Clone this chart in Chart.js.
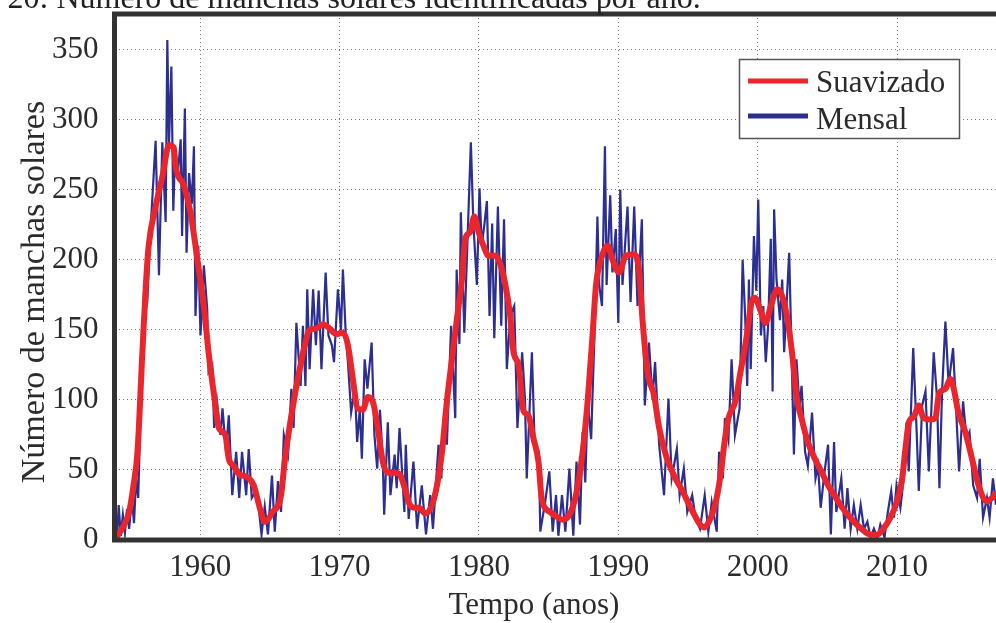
<!DOCTYPE html>
<html lang="pt">
<head>
<meta charset="utf-8">
<title>Manchas solares</title>
<script src="https://cdn.jsdelivr.net/npm/chart.js@4/dist/chart.umd.min.js"></script>
<style>
  html, body { margin: 0; padding: 0; background: #fff; overflow: hidden; }
  #wrap { position: relative; width: 996px; height: 623px; }
  #legenda-fig {
    position: absolute; left: -84px; top: -19px; white-space: nowrap;
    font: 32px "Liberation Serif", "DejaVu Serif", serif; line-height: 32px; color: #222;
  }
  canvas { position: absolute; left: 0; top: 0; }
</style>
</head>
<body>
<div id="wrap">
  <canvas id="grafico" width="996" height="623"></canvas>
  <div id="legenda-fig">Figura 20: Número de manchas solares identificadas por ano.</div>
</div>
<script>
// valores (ano decimal, número de manchas)
const anosSuav = [
  1954.06, 1954.5, 1954.9, 1955.2, 1955.5, 1955.85, 1956.1, 1956.3, 1956.8, 1957.3,
  1957.76, 1958.1, 1958.23, 1958.83, 1959.3, 1959.8, 1960.26, 1960.6, 1961.0, 1961.34,
  1961.8, 1962.05, 1962.4, 1962.77, 1963.36, 1963.84, 1964.3, 1964.65, 1965.2, 1965.8,
  1966.06, 1966.4, 1966.78, 1967.14, 1967.5, 1967.85, 1968.33, 1968.8, 1969.28, 1969.76,
  1970.24, 1970.6, 1970.95, 1971.3, 1971.67, 1972.03, 1972.38, 1972.74, 1973.1, 1973.46,
  1973.94, 1974.3, 1974.65, 1975.0, 1975.44, 1975.7, 1976.16, 1976.63, 1976.99, 1977.35,
  1977.7, 1978.06, 1978.42, 1978.78, 1979.02, 1979.38, 1979.66, 1979.97, 1980.33, 1980.69,
  1981.17, 1981.5, 1981.9, 1982.24, 1982.48, 1982.84, 1983.2, 1983.55, 1983.9, 1984.27,
  1984.5, 1985.1, 1985.53, 1986.0, 1986.49, 1986.96, 1987.44, 1987.8, 1988.15, 1988.4,
  1988.75, 1989.23, 1989.58, 1990.06, 1990.54, 1991.14, 1991.5, 1991.73, 1992.09, 1992.57,
  1992.93, 1993.4, 1994.0, 1994.6, 1995.2, 1995.8, 1996.15, 1996.5, 1996.94, 1997.3,
  1997.65, 1997.9, 1998.4, 1998.73, 1999.08, 1999.32, 1999.56, 1999.8, 2000.16, 2000.56,
  2000.94, 2001.42, 2001.83, 2002.18, 2002.54, 2002.78, 2003.14, 2003.6, 2004.1, 2004.57,
  2005.05, 2005.5, 2006.0, 2006.67, 2007.39, 2008.1, 2008.58, 2009.05, 2009.5, 2010.0,
  2010.37, 2010.6, 2010.85, 2011.2, 2011.56, 2011.9, 2012.4, 2012.75, 2013.0, 2013.47,
  2013.83, 2014.07, 2014.4, 2014.9, 2015.38, 2015.85, 2016.45, 2016.8, 2017.1
];
const valoresSuav = [
  3, 10, 20, 38, 63, 134, 182, 210, 238, 260,
  282, 280, 267, 253, 234, 200, 167, 134, 103, 80,
  75, 58, 53, 47, 45, 39, 22, 13, 20, 32,
  56, 80, 103, 122, 139, 150, 151, 154, 151, 147,
  148, 139, 115, 94, 93, 102, 99, 80, 56, 48,
  48, 47, 38, 26, 23, 23, 19, 25, 39, 63,
  99, 129, 158, 186, 215, 220, 231, 220, 210, 203,
  203, 198, 182, 160, 134, 125, 92, 89, 73, 56,
  30, 20, 17, 14.5, 18, 32, 63, 99, 146, 182,
  200, 210, 200, 191, 203, 204, 191, 158, 120, 103,
  80, 61, 46, 35, 23, 12, 9, 13, 25, 44,
  72, 87, 99, 118, 137, 153, 170, 173, 165, 155,
  167, 179, 172, 155, 127, 103, 87, 70, 58, 49,
  39, 32, 24, 15.6, 8.5, 3.8, 3.8, 8.5, 15.6, 27.5,
  44, 65, 84, 88, 96, 87, 86, 87, 104, 108,
  115, 108, 91, 77, 58, 39, 27.5, 30, 33
];

const anosMensal = [
  1954.05, 1954.15, 1954.3, 1954.45, 1954.6, 1954.75, 1954.9, 1955.1, 1955.25, 1955.4,
  1955.55, 1955.8, 1955.97, 1956.1, 1956.2, 1956.4, 1956.56, 1956.8, 1957.04, 1957.28,
  1957.52, 1957.64, 1957.76, 1957.93, 1958.07, 1958.2, 1958.4, 1958.6, 1958.7, 1958.9,
  1959.02, 1959.2, 1959.4, 1959.55, 1959.66, 1959.86, 1960.02, 1960.26, 1960.5, 1960.6,
  1960.86, 1961.0, 1961.2, 1961.45, 1961.6, 1961.85, 1962.05, 1962.3, 1962.58, 1962.8,
  1963.0, 1963.3, 1963.48, 1963.7, 1964.0, 1964.15, 1964.4, 1964.63, 1964.86, 1965.15,
  1965.35, 1965.58, 1965.8, 1966.0, 1966.3, 1966.54, 1966.7, 1966.9, 1967.2, 1967.37,
  1967.55, 1967.68, 1967.85, 1968.1, 1968.3, 1968.5, 1968.7, 1969.0, 1969.2, 1969.45,
  1969.6, 1969.88, 1970.1, 1970.24, 1970.45, 1970.6, 1970.83, 1971.1, 1971.26, 1971.45,
  1971.6, 1971.8, 1972.0, 1972.3, 1972.5, 1972.7, 1972.9, 1973.1, 1973.2, 1973.46,
  1973.65, 1973.95, 1974.1, 1974.3, 1974.5, 1974.65, 1974.75, 1974.96, 1975.3, 1975.56,
  1975.9, 1976.2, 1976.5, 1976.7, 1977.1, 1977.3, 1977.5, 1977.7, 1978.0, 1978.3,
  1978.4, 1978.6, 1978.7, 1978.95, 1979.2, 1979.42, 1979.6, 1979.85, 1980.04, 1980.2,
  1980.4, 1980.57, 1980.76, 1980.95, 1981.1, 1981.36, 1981.6, 1981.8, 1982.0, 1982.25,
  1982.53, 1982.76, 1983.1, 1983.3, 1983.43, 1983.8, 1984.0, 1984.3, 1984.4, 1984.75,
  1985.05, 1985.29, 1985.53, 1985.7, 1985.96, 1986.2, 1986.49, 1986.77, 1987.0, 1987.25,
  1987.44, 1987.63, 1987.8, 1988.05, 1988.3, 1988.5, 1988.63, 1988.83, 1989.04, 1989.16,
  1989.42, 1989.58, 1989.82, 1990.0, 1990.14, 1990.3, 1990.66, 1990.88, 1991.14, 1991.38,
  1991.69, 1991.9, 1992.2, 1992.45, 1992.64, 1992.93, 1993.28, 1993.6, 1993.83, 1994.2,
  1994.4, 1994.7, 1994.95, 1995.3, 1995.55, 1995.86, 1996.2, 1996.46, 1996.7, 1997.06,
  1997.23, 1997.5, 1997.65, 1997.9, 1998.13, 1998.37, 1998.7, 1998.92, 1999.1, 1999.25,
  1999.37, 1999.5, 1999.73, 1999.9, 2000.04, 2000.23, 2000.4, 2000.58, 2000.75, 2000.94,
  2001.07, 2001.18, 2001.35, 2001.6, 2001.76, 2001.9, 2002.26, 2002.42, 2002.6, 2002.78,
  2003.0, 2003.15, 2003.4, 2003.6, 2003.9, 2004.15, 2004.33, 2004.52, 2004.8, 2005.05,
  2005.25, 2005.48, 2005.64, 2006.0, 2006.24, 2006.44, 2006.67, 2006.9, 2007.15, 2007.39,
  2007.63, 2007.87, 2008.1, 2008.34, 2008.58, 2008.8, 2009.1, 2009.34, 2009.58, 2009.77,
  2009.96, 2010.24, 2010.5, 2010.68, 2010.84, 2011.16, 2011.4, 2011.56, 2011.8, 2012.04,
  2012.28, 2012.63, 2012.87, 2013.04, 2013.23, 2013.47, 2013.7, 2014.02, 2014.2, 2014.45,
  2014.74, 2014.98, 2015.2, 2015.46, 2015.74, 2015.93, 2016.17, 2016.45, 2016.64, 2016.88,
  2017.1
];
const valoresMensal = [
  4, 25, 3, 18, 5, 22, 8, 30, 12, 44,
  30, 120, 177, 165, 170, 215, 243, 285, 189, 284,
  227, 357, 283, 338, 235, 280, 262, 286, 217, 308,
  205, 262, 240, 281, 160, 210, 146, 196, 165, 120,
  125, 80, 99, 75, 94, 63, 89, 32, 63, 30,
  63, 32, 65, 30, 35, 27, 4, 24, 4, 46,
  6, 42, 20, 75, 61, 108, 80, 155, 110, 153,
  110, 179, 122, 179, 139, 178, 122, 191, 146, 139,
  127, 179, 150, 193, 145, 127, 91, 108, 70, 93,
  58, 129, 108, 141, 75, 51, 93, 56, 18, 84,
  32, 61, 37, 80, 46, 20, 68, 15, 56, 8,
  39, 4, 32, 8, 68, 44, 91, 68, 153, 87,
  193, 140, 234, 148, 220, 284, 226, 182, 251, 210,
  226, 242, 160, 226, 144, 238, 153, 229, 122, 160,
  167, 80, 134, 101, 44, 134, 68, 63, 6, 27,
  49, 6, 32, 3, 32, 6, 51, 3, 56, 11,
  77, 41, 99, 72, 150, 231, 182, 167, 281, 182,
  246, 191, 222, 155, 250, 182, 238, 170, 238, 167,
  229, 96, 141, 101, 127, 68, 32, 101, 44, 65,
  32, 51, 20, 32, 15, 8, 32, 6, 27, 6,
  63, 44, 87, 72, 129, 75, 94, 200, 160, 110,
  186, 122, 217, 178, 243, 146, 167, 127, 153, 215,
  106, 236, 186, 157, 186, 134, 205, 139, 61, 129,
  96, 110, 63, 53, 91, 44, 53, 23, 49, 68,
  4, 70, 20, 44, 8, 37, 8, 25, 8, 25,
  8, 13, 2, 8, 1, 11, 2, 20, 35, 16,
  39, 23, 46, 84, 49, 137, 79, 35, 96, 106,
  49, 134, 101, 37, 106, 156, 111, 137, 101, 49,
  99, 72, 77, 39, 30, 58, 16, 30, 16, 44,
  25
];

const ticksAnos = [1960, 1970, 1980, 1990, 2000, 2010];
const ticksY = [0, 50, 100, 150, 200, 250, 300, 350];
const tituloX = 'Tempo (anos)';
const tituloY = 'Número de manchas solares';

const fonteSerif = '"Liberation Serif", "DejaVu Serif", serif';
const corTexto = '#2b2b2b';

// moldura grossa (esquerda, topo, base), títulos dos eixos e caixa de legenda
const molduraPlugin = {
  id: 'moldura',
  afterDatasetsDraw(chart) {
    const { ctx, chartArea: a } = chart;
    ctx.save();
    ctx.strokeStyle = '#333';
    ctx.lineWidth = 5;
    ctx.beginPath();
    ctx.moveTo(chart.width + 5, a.top);
    ctx.lineTo(a.left, a.top);
    ctx.lineTo(a.left, a.bottom);
    ctx.lineTo(chart.width + 5, a.bottom);
    ctx.stroke();

    // títulos dos eixos (no original não ficam centrados na área visível)
    ctx.fillStyle = corTexto;
    ctx.textAlign = 'center';
    ctx.textBaseline = 'alphabetic';
    ctx.font = '31px ' + fonteSerif;
    ctx.fillText(tituloX, 534, 614);
    ctx.save();
    ctx.translate(44, 292);
    ctx.rotate(-Math.PI / 2);
    ctx.font = '34px ' + fonteSerif;
    ctx.fillText(tituloY, 0, 0);
    ctx.restore();

    // legenda
    const bx = 739.5, by = 59.5, bw = 220, bh = 79;
    ctx.fillStyle = '#fff';
    ctx.fillRect(bx, by, bw, bh);
    ctx.strokeStyle = '#555';
    ctx.lineWidth = 1.5;
    ctx.strokeRect(bx, by, bw, bh);
    const linhas = [
      { ds: chart.data.datasets[0], y: 81, base: 92 },
      { ds: chart.data.datasets[1], y: 116, base: 129 }
    ];
    linhas.forEach(l => {
      ctx.strokeStyle = l.ds.borderColor;
      ctx.lineWidth = 5;
      ctx.beginPath();
      ctx.moveTo(748, l.y);
      ctx.lineTo(808, l.y);
      ctx.stroke();
      ctx.fillStyle = corTexto;
      ctx.font = '31px ' + fonteSerif;
      ctx.textAlign = 'left';
      ctx.fillText(l.ds.label, 816, l.base);
    });
    ctx.restore();
  }
};

const pontos = (xs, ys) => xs.map((x, i) => ({ x, y: ys[i] }));

new Chart(document.getElementById('grafico').getContext('2d'), {
  type: 'line',
  data: {
    datasets: [
      {
        label: 'Suavizado',
        data: pontos(anosSuav, valoresSuav),
        borderColor: 'rgb(234, 38, 44)',
        borderWidth: 6,
        pointRadius: 0,
        cubicInterpolationMode: 'monotone',
        borderCapStyle: 'round',
        borderJoinStyle: 'round',
        fill: false
      },
      {
        label: 'Mensal',
        data: pontos(anosMensal, valoresMensal),
        borderColor: 'rgb(44, 46, 145)',
        borderWidth: 2.2,
        pointRadius: 0,
        tension: 0,
        fill: false
      }
    ]
  },
  options: {
    responsive: false,
    devicePixelRatio: 1,
    animation: false,
    layout: { padding: { top: 14, right: 0, left: 0, bottom: 0 } },
    scales: {
      x: {
        type: 'linear',
        min: 1953.85,
        max: 2017.1,
        afterBuildTicks: s => { s.ticks = ticksAnos.map(v => ({ value: v })); },
        afterFit: s => { s.height = 83; s.paddingLeft = 0; s.paddingRight = 0; },
        ticks: {
          callback: v => String(v),
          font: { family: fonteSerif, size: 31 },
          color: corTexto,
          padding: 9,
          maxRotation: 0
        },
        grid: { color: '#777', lineWidth: 1, drawTicks: false },
        border: { display: false, dash: [1, 3] }
      },
      y: {
        type: 'linear',
        min: 0,
        max: 375.5,
        afterBuildTicks: s => { s.ticks = ticksY.map(v => ({ value: v })); },
        afterFit: s => { s.width = 114.5; s.paddingTop = 0; s.paddingBottom = 0; },
        ticks: {
          font: { family: fonteSerif, size: 31 },
          color: corTexto,
          padding: 16
        },
        grid: { color: '#777', lineWidth: 1, drawTicks: false },
        border: { display: false, dash: [1, 3] }
      }
    },
    plugins: {
      legend: { display: false },
      tooltip: { enabled: false },
      title: { display: false }
    }
  },
  plugins: [molduraPlugin]
});
</script>
</body>
</html>
